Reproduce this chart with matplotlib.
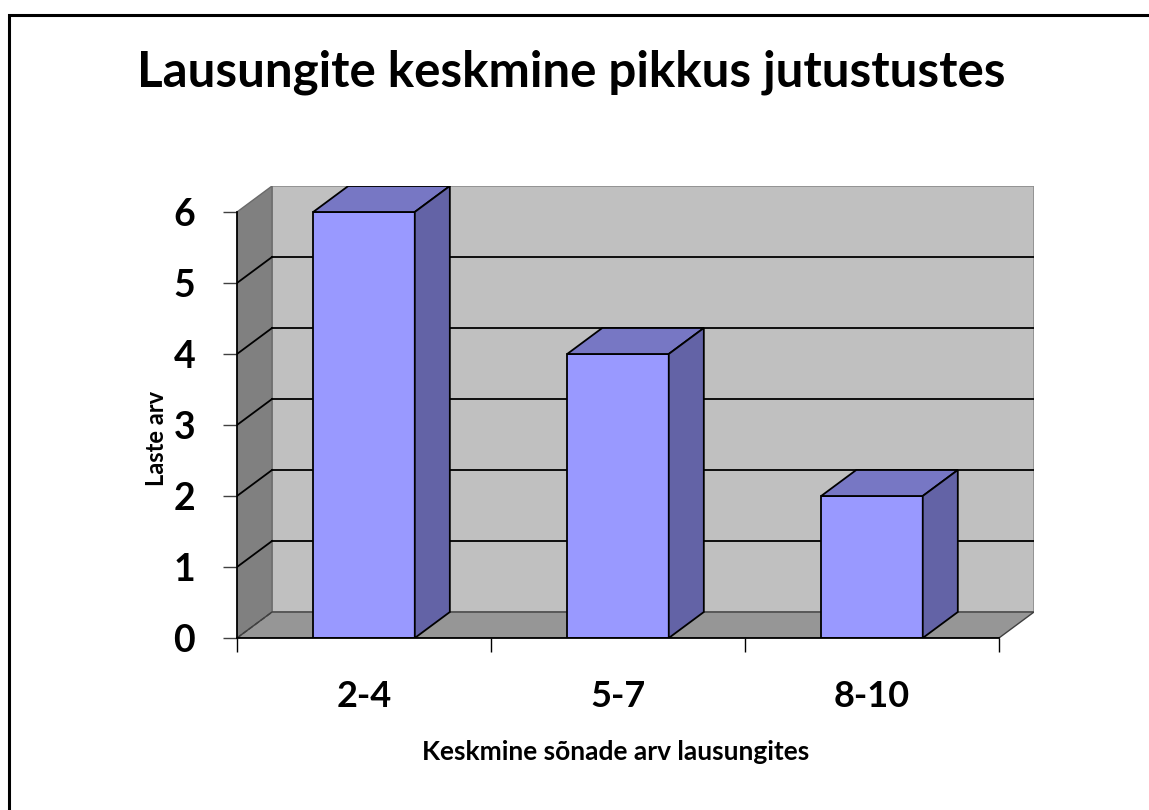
import matplotlib.pyplot as plt
from matplotlib.patches import Polygon, Rectangle

plt.rcParams['font.family'] = ['Lato', 'DejaVu Sans']
plt.rcParams['font.weight'] = 'bold'

# Data
categories = ["2-4", "5-7", "8-10"]
counts = [6, 4, 2]
y_ticks = [0, 1, 2, 3, 4, 5, 6]

title = "Lausungite keskmine pikkus jutustustes"
x_label = "Keskmine sõnade arv lausungites"
y_label = "Laste arv"

# 3D look: depth offset in data units, bar width in category units
dx, dy = 0.138, 0.366
bw = 0.4
ymax = max(y_ticks)
n = len(categories)

W, H = 1149, 810
fig = plt.figure(figsize=(W / 100, H / 100), dpi=100)
ax = fig.add_axes([237 / W, (H - 638) / H, (1034 - 237) / W, (638 - 186) / H])
ax.set_xlim(-0.5, n - 0.5 + dx)
ax.set_ylim(0, ymax + dy)
for s in ax.spines.values():
    s.set_visible(False)

left = -0.5
right = n - 0.5

# walls and floor
ax.add_patch(Polygon([(left + dx, dy), (right + dx, dy), (right + dx, ymax + dy), (left + dx, ymax + dy)],
                     closed=True, facecolor='#c0c0c0', edgecolor='#8c8c8c', lw=1.2, zorder=1))
ax.add_patch(Polygon([(left, 0), (left + dx, dy), (left + dx, ymax + dy), (left, ymax)],
                     closed=True, facecolor='#808080', edgecolor='#6a6a6a', lw=1.0, zorder=1))
ax.add_patch(Polygon([(left, 0), (right, 0), (right + dx, dy), (left + dx, dy)],
                     closed=True, facecolor='#969696', edgecolor='#404040', lw=1.0, zorder=1))

# gridlines on back wall and side wall
for k in y_ticks[1:-1]:
    ax.plot([left + dx, right + dx], [k + dy, k + dy], color='black', lw=1.3, zorder=2)
    ax.plot([left, left + dx], [k, k + dy], color='black', lw=1.3, zorder=2)
ax.plot([left, left + dx], [0, dy], color='#404040', lw=1.0, ls='--', zorder=2)

# bars
for i, v in enumerate(counts):
    x0, x1 = i - bw / 2, i + bw / 2
    ax.add_patch(Rectangle((x0, 0), bw, v, facecolor='#9999ff', edgecolor='black', lw=1.3, zorder=4))
    ax.add_patch(Polygon([(x0, v), (x1, v), (x1 + dx, v + dy), (x0 + dx, v + dy)], closed=True,
                         facecolor='#7777c4', edgecolor='black', lw=1.3, zorder=4))
    ax.add_patch(Polygon([(x1, 0), (x1 + dx, dy), (x1 + dx, v + dy), (x1, v)], closed=True,
                         facecolor='#6363a6', edgecolor='black', lw=1.3, zorder=4))

# front axis lines
ax.plot([left, right], [0, 0], color='black', lw=1.3, zorder=5, clip_on=False)
ax.plot([left, left], [0, ymax], color='black', lw=1.3, zorder=5, clip_on=False)

ax.set_yticks(y_ticks)
ax.set_yticklabels([str(t) for t in y_ticks], fontsize=27, fontweight='bold')
ax.tick_params(axis='y', length=10, width=1, color='#404040', pad=20)

ax.set_xticks(range(n))
ax.set_xticklabels(categories, fontsize=26, fontweight='bold')
ax.set_xticks([left + i for i in range(n + 1)], minor=True)
ax.tick_params(axis='x', which='major', length=0, pad=30)
ax.tick_params(axis='x', which='minor', length=10, width=1, color='black')

fig.text(571 / W, 1 - 72 / H, title, ha='center', va='center', fontsize=35.5, fontweight='bold')
fig.text(616 / W, 1 - 752 / H, x_label, ha='center', va='center', fontsize=19, fontweight='bold')
fig.text(156 / W, 1 - 438 / H, y_label, ha='center', va='center', rotation=90, fontsize=17, fontweight='bold')

# outer frame
fig.add_artist(Rectangle((8.5 / W, -0.05), 1.2, 1 - 14.5 / H + 0.05, transform=fig.transFigure,
                         fill=False, edgecolor='black', lw=2.2))

fig.savefig('out.png', dpi=100)
